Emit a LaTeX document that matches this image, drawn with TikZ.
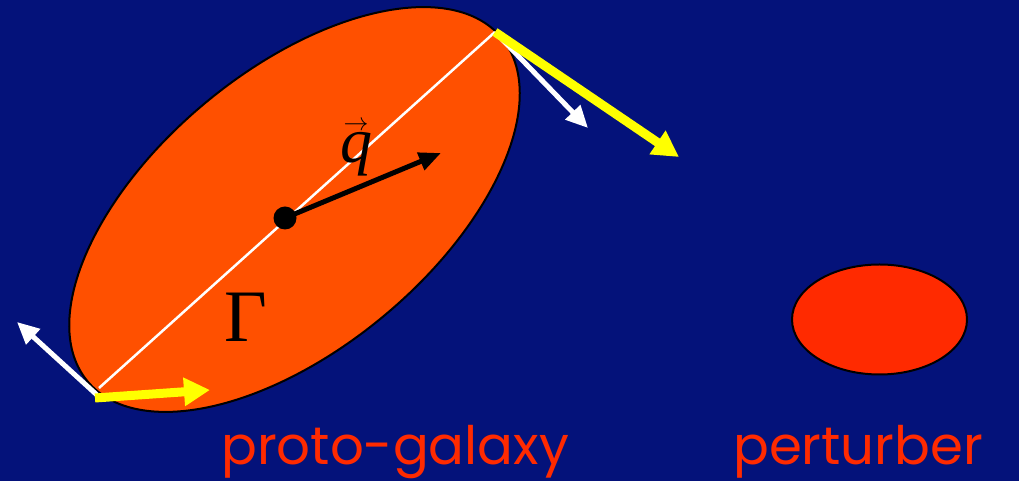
\documentclass[tikz,border=0pt]{standalone}
\usepackage{fontspec}
\setmainfont{Liberation Serif}
\newfontfamily\labelfont{Poppins}
\usetikzlibrary{arrows.meta,shapes.geometric}
\definecolor{bg}{RGB}{4,18,122}
\definecolor{galaxyfill}{RGB}{255,80,0}
\definecolor{pertfill}{RGB}{255,42,0}
\definecolor{labelred}{RGB}{255,42,0}
\definecolor{vyellow}{RGB}{255,255,0}
\tikzset{
  blob/.style={ellipse, draw=black, line width=2pt, inner sep=0pt},
  whitearrow/.style={white, line width=5pt, -{Triangle[length=22pt,width=20pt]}},
  yellowarrow/.style={vyellow, line width=9pt, -{Triangle[length=26pt,width=27pt]}},
  blackarrow/.style={black, line width=5pt, -{Triangle[length=22pt,width=18pt]}},
  caption/.style={text=labelred, font=\labelfont\fontsize{53}{60}\selectfont, inner sep=0pt, anchor=base west},
  symb/.style={text=black, inner sep=0pt, anchor=base}
}
\begin{document}
\begin{tikzpicture}[x=1pt,y=1pt]
\fill[bg] (0,0) rectangle (1019,481);
\useasboundingbox (0,0) rectangle (1019,481);
% proto-galaxy ellipse
\node[blob, fill=galaxyfill, minimum width=538pt, minimum height=278pt, rotate=39.7] (galaxy) at (294.5,271.5) {};
% perturber
\node[blob, fill=pertfill, minimum width=175pt, minimum height=110pt] (pert) at (879.5,161.5) {};
% axis endpoints
\coordinate (top) at (495,449);
\coordinate (bot) at (99,93);
\draw[white, line width=2.5pt] (bot) -- (top);
% centre and vector
\node[circle, fill=black, minimum size=23pt, inner sep=0pt] (cm) at (285,263) {};
\coordinate (qtip) at (441,328);
\draw[blackarrow] (cm.center) -- (qtip);
\node[symb, font=\fontsize{64}{70}\selectfont] (q) at (356,318)
  {$\stackrel{\mbox{\fontsize{30}{30}\selectfont$\rightarrow$}}{\mbox{\itshape q}}$};
\node[symb, font=\fontsize{74}{80}\selectfont] (gamma) at (246,139) {Γ};
% velocity arrows top
\coordinate (wt) at (588,353);
\coordinate (yt) at (679,324);
\draw[whitearrow] (top) -- (wt);
\draw[yellowarrow] (top) -- (yt);
% velocity arrows bottom
\coordinate (wbs) at (97,86);
\coordinate (wb) at (17,159);
\coordinate (yb) at (210,91);
\coordinate (bot2) at (95,83);
\draw[whitearrow] (wbs) -- (wb);
\draw[yellowarrow] (bot2) -- (yb);
% labels
\node[caption] (lab1) at (221,16) {proto-galaxy};
\node[caption] (lab2) at (733,16) {perturber};
\end{tikzpicture}
\end{document}
